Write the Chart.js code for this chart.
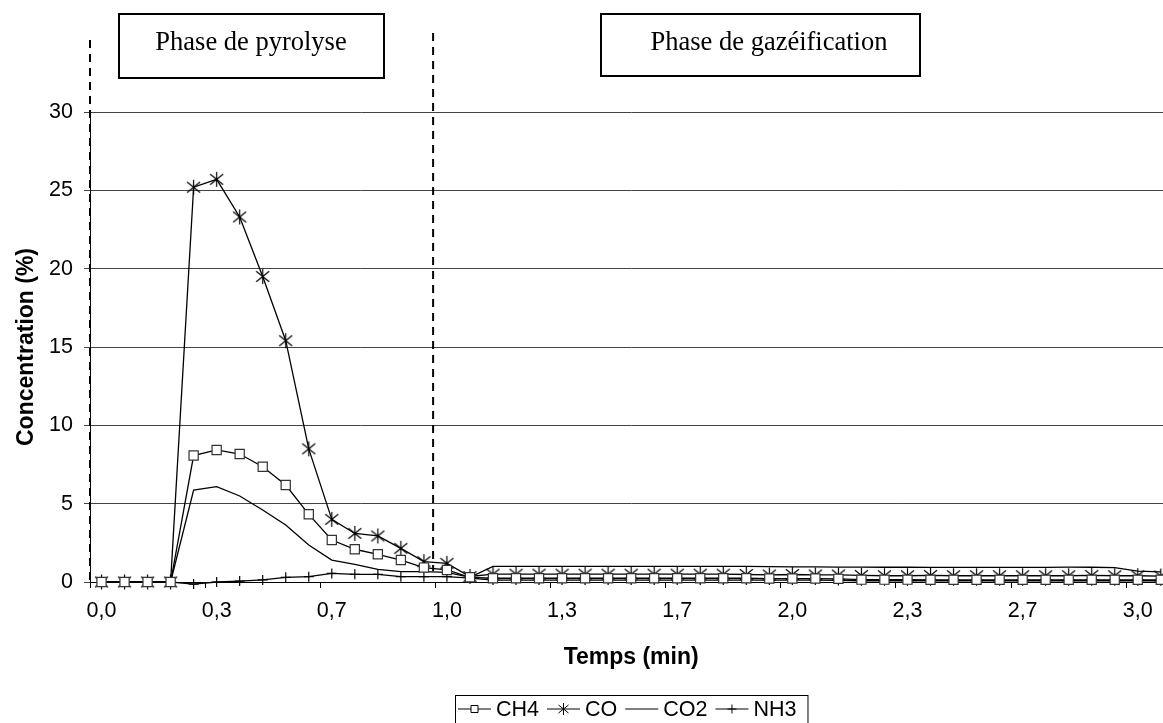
<!DOCTYPE html>
<html>
<head>
<meta charset="utf-8">
<script src="https://cdn.jsdelivr.net/npm/chart.js@4/dist/chart.umd.min.js"></script>
<style>
html, body { margin: 0; padding: 0; background: #fff; overflow: hidden; }
</style>
</head>
<body>
<canvas id="myChart" width="1180" height="726"></canvas>
<script>
// temps (min), un point toutes les 4 s
const temps = ['0,0','0,1','0,1','0,2','0,3','0,3','0,4','0,5','0,5','0,6',
               '0,7','0,7','0,8','0,9','0,9','1,0','1,1','1,1','1,2','1,3',
               '1,3','1,4','1,5','1,5','1,6','1,7','1,7','1,8','1,9','1,9',
               '2,0','2,1','2,1','2,2','2,3','2,3','2,4','2,5','2,5','2,6',
               '2,7','2,7','2,8','2,9','2,9','3,0','3,1'];

const valuesCH4 = [0, 0, 0, 0, 8.07, 8.43, 8.17, 7.36, 6.19, 4.32,
                   2.68, 2.09, 1.77, 1.40, 0.92, 0.77, 0.30, 0.24, 0.24, 0.24,
                   0.24, 0.24, 0.24, 0.24, 0.24, 0.24, 0.24, 0.24, 0.24, 0.22,
                   0.22, 0.22, 0.2, 0.15, 0.15, 0.15, 0.14, 0.14, 0.14, 0.14,
                   0.14, 0.14, 0.14, 0.14, 0.14, 0.14, 0.14];
const valuesCO = [0, 0, 0, 0, 25.2, 25.7, 23.3, 19.5, 15.4, 8.5,
                  4.0, 3.1, 2.94, 2.15, 1.3, 1.19, 0.35, 0.5, 0.5, 0.5,
                  0.5, 0.5, 0.5, 0.5, 0.5, 0.5, 0.5, 0.5, 0.48, 0.45,
                  0.48, 0.45, 0.45, 0.42, 0.4, 0.4, 0.42, 0.4, 0.4, 0.4,
                  0.4, 0.4, 0.4, 0.42, 0.4, 0.4, 0.38];
const valuesCO2 = [0, 0, 0, 0, 5.87, 6.09, 5.49, 4.6, 3.64, 2.36,
                   1.40, 1.13, 0.81, 0.66, 0.66, 0.62, 0.3, 1.0, 1.0, 1.0,
                   1.0, 1.0, 1.0, 1.0, 1.0, 1.0, 1.0, 1.0, 1.0, 0.98,
                   0.97, 0.96, 0.95, 0.95, 0.94, 0.94, 0.93, 0.93, 0.93, 0.93,
                   0.93, 0.93, 0.95, 0.94, 0.92, 0.7, 0.65];
const valuesNH3 = [0, 0, 0, 0, -0.13, 0.0, 0.06, 0.13, 0.3, 0.34,
                   0.55, 0.49, 0.49, 0.34, 0.34, 0.34, 0.25, 0.12, 0.12, 0.12,
                   0.12, 0.12, 0.12, 0.12, 0.12, 0.12, 0.12, 0.12, 0.12, 0.12,
                   0.12, 0.12, 0.1, 0.08, 0.08, 0.08, 0.08, 0.08, 0.08, 0.08,
                   0.08, 0.08, 0.08, 0.08, 0.08, 0.08, 0.08];

const seriesNames = ['CH4', 'CO', 'CO2', 'NH3'];
const yTicks = [0, 5, 10, 15, 20, 25, 30];

const FONT = '"Liberation Sans", Arial, sans-serif';
const SERIF = '"Liberation Serif", "Times New Roman", serif';

// marqueur étoile (X + trait vertical) comme dans Excel
function makeStar(size) {
    const c = document.createElement('canvas');
    c.width = size; c.height = size + 2;
    const g = c.getContext('2d');
    g.strokeStyle = '#000';
    g.lineWidth = 1.2;
    drawMarker(g, 'star', size / 2, (size + 2) / 2, size);
    return c;
}

function drawMarker(ctx, type, x, y, s) {
    ctx.beginPath();
    if (type === 'square') {
        ctx.fillStyle = '#fff';
        ctx.rect(x - s / 2, y - s / 2, s, s);
        ctx.fill();
    } else if (type === 'star') {
        const h = s / 2 - 1;
        ctx.moveTo(x - h, y - h * 0.8); ctx.lineTo(x + h, y + h * 0.8);
        ctx.moveTo(x + h, y - h * 0.8); ctx.lineTo(x - h, y + h * 0.8);
        ctx.moveTo(x, y - h - 1); ctx.lineTo(x, y + h + 1);
    } else if (type === 'plus') {
        const h = s / 2;
        ctx.moveTo(x, y - h); ctx.lineTo(x, y + h);
        ctx.moveTo(x - h, y); ctx.lineTo(x + h, y);
    }
    ctx.stroke();
}

const legendMarkers = ['square', 'star', 'none', 'plus'];

const decor = {
    id: 'decor',
    afterDraw(chart) {
        const ctx = chart.ctx;
        const area = chart.chartArea;
        const xs = chart.scales.x;
        ctx.save();

        // traits pointillés de séparation des phases
        ctx.strokeStyle = '#000';
        ctx.lineWidth = 2;
        ctx.setLineDash([8, 6]);
        ctx.beginPath();
        ctx.moveTo(area.left, 40); ctx.lineTo(area.left, area.bottom);
        const step = xs.getPixelForValue(1) - xs.getPixelForValue(0);
        const xp = xs.getPixelForValue(14) + 0.4 * step;
        ctx.moveTo(xp, 33); ctx.lineTo(xp, 571);
        ctx.stroke();
        ctx.setLineDash([]);

        // cadres de texte
        ctx.lineWidth = 2;
        ctx.strokeRect(119, 14, 265, 64);
        ctx.strokeRect(601, 14, 319, 62);
        ctx.fillStyle = '#000';
        ctx.font = '26.5px ' + SERIF;
        ctx.textAlign = 'center';
        ctx.textBaseline = 'alphabetic';
        ctx.fillText('Phase de pyrolyse', 251, 50);
        ctx.fillText('Phase de gazéification', 769, 50);

        // légende
        ctx.font = '21.5px ' + FONT;
        ctx.textAlign = 'left';
        ctx.textBaseline = 'middle';
        const sampleW = 33, gapText = 5, gapItem = 8;
        const widths = chart.data.datasets.map(ds => ctx.measureText(ds.label).width);
        let total = 0;
        widths.forEach(w => { total += sampleW + gapText + w; });
        total += gapItem * (widths.length - 1);
        const boxW = total + 3 + 11;
        let x = Math.round((area.left + area.right) / 2 - boxW / 2);
        const top = 695, cy = 709;
        ctx.lineWidth = 1;
        ctx.strokeRect(x + 0.5, top + 0.5, boxW, 34);
        x += 3;
        chart.data.datasets.forEach((ds, i) => {
            ctx.beginPath();
            ctx.moveTo(x, cy); ctx.lineTo(x + sampleW, cy);
            ctx.stroke();
            const m = legendMarkers[i];
            const s = m === 'star' ? 12 : (m === 'square' ? 7 : 9);
            drawMarker(ctx, m, x + sampleW / 2, cy, s);
            ctx.fillStyle = '#000';
            ctx.fillText(ds.label, x + sampleW + gapText, cy + 1);
            x += sampleW + gapText + widths[i] + gapItem;
        });
        ctx.restore();
    }
};

const ctx = document.getElementById('myChart');
const chart = new Chart(ctx, {
    type: 'line',
    data: {
        labels: temps,
        datasets: [{
            label: seriesNames[0],
            data: valuesCH4,
            borderColor: '#000',
            borderWidth: 1.3,
            pointStyle: 'rect',
            pointRadius: 6.5,
            pointBorderWidth: 1.2,
            pointBorderColor: '#333',
            pointBackgroundColor: '#fff',
            clip: false
        }, {
            label: seriesNames[1],
            data: valuesCO,
            borderColor: '#000',
            borderWidth: 1.3,
            pointStyle: makeStar(15),
            clip: false
        }, {
            label: seriesNames[2],
            data: valuesCO2,
            borderColor: '#000',
            borderWidth: 1.3,
            pointRadius: 0,
            clip: false
        }, {
            label: seriesNames[3],
            data: valuesNH3,
            borderColor: '#000',
            borderWidth: 1.3,
            pointStyle: 'cross',
            pointRadius: 5,
            pointBorderWidth: 1.2,
            pointBorderColor: '#000',
            clip: false
        }]
    },
    options: {
        responsive: false,
        animation: false,
        events: [],
        layout: { padding: { top: 112, right: 6, left: 0, bottom: 0 } },
        plugins: {
            legend: { display: false },
            tooltip: { enabled: false }
        },
        scales: {
            x: {
                type: 'category',
                offset: true,
                afterFit(scale) { scale.height = 144; },
                border: { display: true, color: '#000', width: 1 },
                grid: {
                    offset: true,
                    drawOnChartArea: false,
                    drawTicks: true,
                    tickLength: 6,
                    color: c => (c.index % 5 === 0 ? '#000' : 'rgba(0,0,0,0)')
                },
                ticks: {
                    autoSkip: false,
                    maxRotation: 0,
                    padding: 10,
                    color: '#000',
                    font: { family: FONT, size: 21.5 },
                    callback: function (val, i) { return i % 5 === 0 ? temps[i] : ''; }
                },
                title: {
                    display: true,
                    text: 'Temps (min)',
                    color: '#000',
                    font: { family: FONT, size: 23, weight: 'bold' },
                    padding: { top: 0, bottom: 55 }
                }
            },
            y: {
                min: yTicks[0],
                max: yTicks[yTicks.length - 1],
                afterFit(scale) { scale.width = 90; },
                border: { display: true, color: '#000', width: 1 },
                grid: { color: '#444', lineWidth: 1, tickLength: 6 },
                ticks: {
                    stepSize: 5,
                    padding: 11,
                    color: '#000',
                    font: { family: FONT, size: 21.5 }
                },
                title: {
                    display: true,
                    text: 'Concentration (%)',
                    color: '#000',
                    font: { family: FONT, size: 23, weight: 'bold' },
                    padding: { top: 13, bottom: 0 }
                }
            }
        }
    },
    plugins: [decor]
});
</script>
</body>
</html>
